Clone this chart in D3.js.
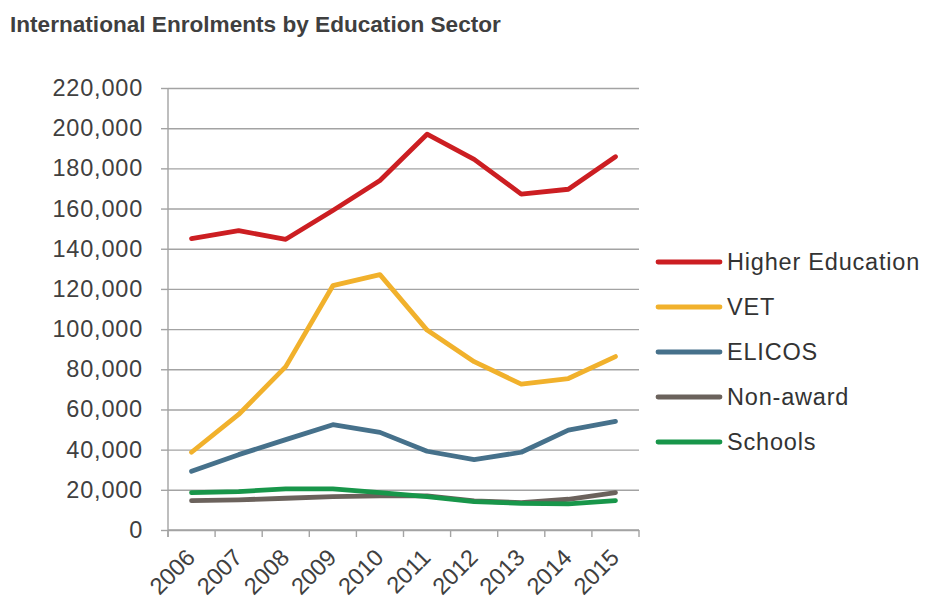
<!DOCTYPE html>
<html>
<head>
<meta charset="utf-8">
<script src="https://cdn.jsdelivr.net/npm/d3@7"></script>
<style>
  html, body { margin: 0; padding: 0; background: #fff; }
  svg { display: block; font-family: "Liberation Sans", Arial, sans-serif; }
</style>
</head>
<body>
<svg id="chart" width="926" height="600"></svg>
<script>
// Enrolment counts per sector, 2006–2015
const years = ["2006", "2007", "2008", "2009", "2010", "2011", "2012", "2013", "2014", "2015"];
const higherEducation = [145000, 149000, 144700, 159000, 174000, 197000, 184500, 167200, 169600, 185800];
const vet            = [38700, 57500, 81300, 121600, 127100, 99500, 83800, 72600, 75400, 86300];
const elicos         = [29200, 37500, 45000, 52400, 48600, 39200, 35000, 38700, 49700, 54100];
const nonAward       = [14600, 15000, 15800, 16600, 17000, 17000, 14500, 13600, 15300, 18600];
const schools        = [18600, 19100, 20500, 20500, 18600, 16600, 14100, 13300, 13000, 14600];
const seriesNames    = ["Higher Education", "VET", "ELICOS", "Non-award", "Schools"];
const seriesColors   = ["#cc1e22", "#f1b12c", "#46718b", "#6b625c", "#18964a"];
const yTicks         = [0, 20000, 40000, 60000, 80000, 100000, 120000, 140000, 160000, 180000, 200000, 220000];

const series = [higherEducation, vet, elicos, nonAward, schools].map((values, i) => ({
  name: seriesNames[i], color: seriesColors[i], values
}));

const svg = d3.select("#chart");
const plotLeft = 168, plotRight = 639, plotTop = 88, plotBottom = 530;
const labelSize = 23.5, labelSpacing = "0.8px", gridColor = "#a3a3a3";

const x = d3.scaleBand().domain(years).range([plotLeft, plotRight]).paddingInner(0).paddingOuter(0);
const y = d3.scaleLinear().domain([0, 220000]).range([plotBottom, plotTop]);

// Title
svg.append("text")
  .attr("x", 10).attr("y", 32)
  .attr("font-size", 22.6).attr("font-weight", "bold").attr("fill", "#3f3f3f")
  .text("International Enrolments by Education Sector");

// Horizontal gridlines
svg.append("g")
  .attr("transform", `translate(${plotLeft},0)`)
  .call(d3.axisLeft(y).tickValues(yTicks).tickSize(-(plotRight - plotLeft)).tickFormat(""))
  .call(g => g.select(".domain").remove())
  .call(g => g.selectAll("line").attr("stroke", gridColor).attr("stroke-width", 1.4));

// Y axis with tick labels
svg.append("g")
  .attr("transform", `translate(${plotLeft},0)`)
  .call(d3.axisLeft(y).tickValues(yTicks).tickSize(7).tickPadding(18).tickFormat(d3.format(",")))
  .call(g => g.select(".domain").attr("stroke", gridColor).attr("stroke-width", 1.4)
      .attr("d", `M0,${plotTop}V${plotBottom + 7}`))
  .call(g => g.selectAll("line").attr("stroke", gridColor).attr("stroke-width", 1.4))
  .call(g => g.selectAll("text").attr("font-size", labelSize).attr("fill", "#404040")
      .attr("letter-spacing", labelSpacing)
      .attr("font-family", "Liberation Sans, Arial, sans-serif"));

// X axis: baseline, ticks at category boundaries, rotated labels at centres
const xAxis = svg.append("g");
xAxis.append("line")
  .attr("x1", plotLeft).attr("x2", plotRight).attr("y1", y(0)).attr("y2", y(0))
  .attr("stroke", gridColor).attr("stroke-width", 1.4);
const edges = years.map(d => x(d)).concat([x.range()[1]]);
xAxis.selectAll(".xtick").data(edges).join("line")
  .attr("class", "xtick")
  .attr("x1", d => d).attr("x2", d => d)
  .attr("y1", y(0)).attr("y2", y(0) + 7)
  .attr("stroke", gridColor).attr("stroke-width", 1.4);
xAxis.selectAll(".xlabel").data(years).join("text")
  .attr("class", "xlabel")
  .attr("transform", d => `translate(${x(d) + x.bandwidth() / 2 + 5},${y(0) + 29}) rotate(-45)`)
  .attr("text-anchor", "end")
  .attr("font-size", labelSize).attr("fill", "#404040")
  .text(d => d);

// Lines
const line = d3.line()
  .x((d, i) => x(years[i]) + x.bandwidth() / 2)
  .y(d => y(d));

svg.append("g").selectAll("path").data(series).join("path")
  .attr("d", d => line(d.values))
  .attr("fill", "none")
  .attr("stroke", d => d.color)
  .attr("stroke-width", 4.8)
  .attr("stroke-linejoin", "round")
  .attr("stroke-linecap", "round");

// Legend
const legend = svg.append("g");
const legendTop = 262, legendStep = 45;
const rows = legend.selectAll("g").data(series).join("g")
  .attr("transform", (d, i) => `translate(658,${legendTop + i * legendStep})`);
rows.append("line")
  .attr("x1", 0).attr("x2", 62).attr("y1", 0).attr("y2", 0)
  .attr("stroke", d => d.color).attr("stroke-width", 4.8).attr("stroke-linecap", "round");
rows.append("text")
  .attr("x", 69).attr("y", 0).attr("dy", "0.35em")
  .attr("font-size", labelSize).attr("fill", "#333")
  .attr("letter-spacing", labelSpacing)
  .text(d => d.name);
</script>
</body>
</html>
